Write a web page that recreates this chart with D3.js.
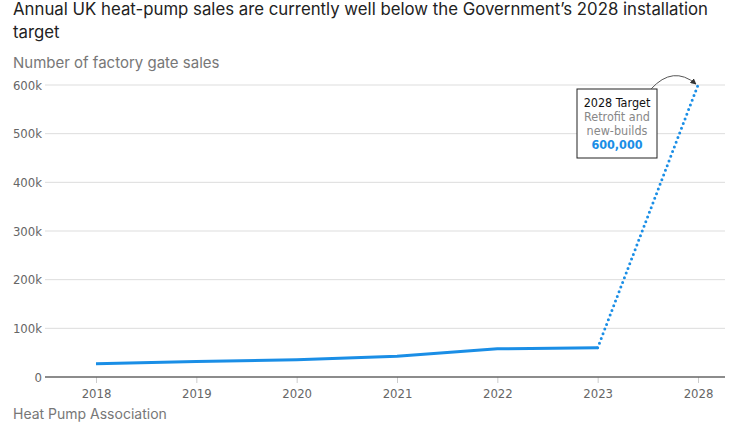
<!DOCTYPE html>
<html><head><meta charset="utf-8">
<script src="https://cdn.jsdelivr.net/npm/d3@7"></script>
<style>
body{margin:0;background:#fff;}
svg{display:block;}
.cond{font-family:'Liberation Sans Narrow','DejaVu Sans Condensed','DejaVu Sans',sans-serif;font-stretch:condensed;}
</style></head>
<body>
<svg id="c" width="744" height="426"></svg>
<script>
const years = ["2018","2019","2020","2021","2022","2023","2028"];
const sales = [27000, 32000, 35500, 42500, 58000, 60000];
const target = 600000;
const yTicks = [0,100000,200000,300000,400000,500000,600000];
const titleLines = ["Annual UK heat-pump sales are currently well below the Government\u2019s 2028 installation","target"];
const subtitle = "Number of factory gate sales";
const source = "Heat Pump Association";
const noteLines = ["2028 Target","Retrofit and","new-builds","600,000"];

const svg = d3.select("#c");
const x = d3.scalePoint().domain(years).range([96, 698]);
const y = d3.scaleLinear().domain([0, 600000]).range([377, 85]);
const left = 45, right = 725;
const blue = "#1a8ee6";

svg.selectAll("text.title").data(titleLines).join("text")
  .attr("x", 13).attr("y", (d,i)=>15 + i*23)
  .attr("font-family","Inter, 'Noto Sans', sans-serif").attr("font-size",16.8)
  .attr("fill","#222").text(d=>d);

svg.append("text").attr("x",13).attr("y",68)
  .attr("font-family","Inter, 'Noto Sans', sans-serif").attr("font-size",15)
  .attr("fill","#777").text(subtitle);

// grid
const g = svg.append("g");
g.selectAll("line.grid").data(yTicks.filter(d=>d>0)).join("line")
  .attr("x1",left).attr("x2",right).attr("y1",d=>y(d)).attr("y2",d=>y(d))
  .attr("stroke","#ddd").attr("stroke-width",1);
g.selectAll("text.yl").data(yTicks).join("text").attr("class","cond")
  .attr("x",42).attr("y",d=>y(d)).attr("dy","0.35em").attr("text-anchor","end")
  .attr("font-size",13).attr("fill","#666")
  .text(d=>d===0?"0":d3.format("d")(d/1000)+"k");

// x axis
const xa = svg.append("g").attr("transform",`translate(0,${y(0)})`)
  .call(d3.axisBottom(x).tickSize(6).tickPadding(6));
xa.select(".domain").remove();
xa.selectAll(".tick line").attr("stroke","#ccc");
xa.selectAll(".tick text").attr("class","cond").attr("font-family",null).attr("font-size",13).attr("fill","#666");
svg.append("line").attr("x1",left).attr("x2",right).attr("y1",y(0)).attr("y2",y(0))
  .attr("stroke","#666").attr("stroke-width",1.5);

// line
const pts = sales.map((v,i)=>[years[i],v]);
const line = d3.line().x(d=>x(d[0])).y(d=>y(d[1]));
svg.append("path").datum(pts).attr("d",line).attr("fill","none")
  .attr("stroke",blue).attr("stroke-width",3);
svg.append("path").datum([pts[pts.length-1],["2028",target]]).attr("d",line)
  .attr("fill","none").attr("stroke",blue).attr("stroke-width",3)
  .attr("stroke-dasharray","0 5").attr("stroke-linecap","round");

// annotation
const bx=577, by=89, bw=80, bh=69;
svg.append("rect").attr("x",bx).attr("y",by).attr("width",bw).attr("height",bh)
  .attr("fill","#fff").attr("stroke","#222").attr("stroke-width",1);
const cols=["#111","#888","#888",blue];
svg.selectAll("text.note").data(noteLines).join("text").attr("class","cond")
  .attr("x",bx+bw/2).attr("y",(d,i)=>by+18+i*14).attr("text-anchor","middle")
  .attr("font-size",12.5)
  .attr("font-weight",(d,i)=>i===3?"bold":"normal")
  .attr("fill",(d,i)=>cols[i]).text(d=>d);

svg.append("defs").append("marker").attr("id","ah").attr("viewBox","0 0 10 10")
  .attr("refX",9).attr("refY",5).attr("markerWidth",6).attr("markerHeight",6)
  .attr("orient","auto").append("path").attr("d","M0,0L10,5L0,10z").attr("fill","#333");
const tx = x("2028")-2, ty = y(target)-1;
svg.append("path").attr("d",`M651,89 Q673,65 ${tx},${ty}`).attr("fill","none")
  .attr("stroke","#555").attr("stroke-width",1).attr("marker-end","url(#ah)");

svg.append("text").attr("x",13).attr("y",419)
  .attr("font-family","Inter, 'Noto Sans', sans-serif").attr("font-size",14)
  .attr("fill","#777").text(source);
</script>
</body></html>
